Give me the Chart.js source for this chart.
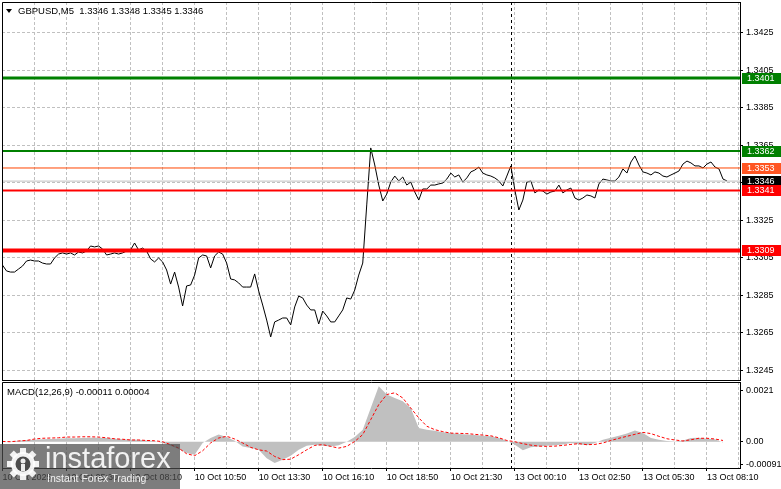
<!DOCTYPE html>
<html>
<head>
<meta charset="utf-8">
<script src="https://cdn.jsdelivr.net/npm/chart.js@4.4.1/dist/chart.umd.min.js"></script>
<style>
  html, body { margin: 0; padding: 0; background: #fff; }
  #wrap { position: relative; width: 781px; height: 489px; overflow: hidden; }
  canvas { position: absolute; left: 0; }
  #priceChart { top: 0; }
  #macdChart { top: 381px; }
</style>
</head>
<body>
<div id="wrap">
  <canvas id="priceChart" width="781" height="381"></canvas>
  <canvas id="macdChart" width="781" height="108"></canvas>
</div>
<script>
// GBPUSD M5, bar 0 = 10 Oct 02:50. closes read every 2 bars
const closeStep = 2;
const closes = [
  1.33012, 1.32981, 1.32975, 1.32975, 1.32991, 1.33007, 1.33034, 1.33039, 1.33034, 1.33034,
  1.33023, 1.33018, 1.33018, 1.33050, 1.33071, 1.33077, 1.33071, 1.33077, 1.33066, 1.33082,
  1.33077, 1.33087, 1.33114, 1.33109, 1.33114, 1.33098, 1.33066, 1.33071, 1.33077, 1.33071,
  1.33077, 1.33087, 1.33093, 1.33130, 1.33093, 1.33103, 1.33087, 1.33045, 1.33029, 1.33050,
  1.33029, 1.32986, 1.32911, 1.32975, 1.32895, 1.32794, 1.32901, 1.32906, 1.32959, 1.33050,
  1.33066, 1.33061, 1.32997, 1.33061, 1.33082, 1.33071, 1.33023, 1.32938, 1.32933, 1.32917,
  1.32895, 1.32895, 1.32895, 1.32965, 1.32874, 1.32799, 1.32719, 1.32629, 1.32709, 1.32719,
  1.32730, 1.32730, 1.32693, 1.32789, 1.32847, 1.32837, 1.32799, 1.32773, 1.32773, 1.32698,
  1.32767, 1.32741, 1.32709, 1.32709, 1.32741, 1.32773, 1.32837, 1.32831, 1.32879, 1.32959,
  1.33023, 1.33333, 1.33637, 1.33546,
  1.33439, 1.33354, 1.33391, 1.33455, 1.33487, 1.33461, 1.33482, 1.33439, 1.33455, 1.33402,
  1.33359, 1.33418, 1.33418, 1.33439, 1.33439, 1.33445, 1.33450, 1.33471, 1.33503, 1.33482,
  1.33493, 1.33455, 1.33477, 1.33509, 1.33519, 1.33535, 1.33503, 1.33493, 1.33487, 1.33477,
  1.33461, 1.33434, 1.33487, 1.33541, 1.33413, 1.33306, 1.33359, 1.33455, 1.33461, 1.33397,
  1.33413, 1.33407, 1.33391, 1.33402, 1.33407, 1.33439, 1.33397, 1.33413, 1.33423, 1.33370,
  1.33359, 1.33370, 1.33386, 1.33381, 1.33370, 1.33445, 1.33471, 1.33466, 1.33461, 1.33461,
  1.33482, 1.33525, 1.33503, 1.33562, 1.33594, 1.33546, 1.33509, 1.33503, 1.33493, 1.33509,
  1.33503, 1.33487, 1.33482, 1.33493, 1.33503, 1.33514, 1.33551, 1.33567, 1.33557, 1.33541,
  1.33541, 1.33530, 1.33551, 1.33562, 1.33535, 1.33525, 1.33471, 1.33461
];

// MACD(12,26,9), read every 4 bars
const macdStep = 4;
const macdHist = [
  0, 0.00001, 0.00004, 0.00007, 0.00008, 0.0001, 0.00011, 0.00012, 0.00014, 0.00014,
  0.00015, 0.00016, 0.00016, 0.00015, 0.00012, 0.0001, 0.00008, 0.00008, 0.00005, 0.00003,
  -0.00005, -0.00016, -0.0003, -0.00046, -0.00053, -0.00005, 0.00015, 0.00029, 0.00019, 0.00004,
  -0.00019, -0.00026, -0.00033, -0.00067, -0.00087, -0.00073, -0.00057, -0.00033, -0.00016, -0.00012,
  -0.00016, -0.00019, -0.00014, 0, 0.00019, 0.00049, 0.00137, 0.00226, 0.00192, 0.00178,
  0.00165, 0.00137, 0.00056, 0.00049, 0.00045, 0.00039, 0.00035, 0.00031, 0.00029, 0.00027,
  0.00024, 0.00022, 0.00015, 0.00004, -0.00012, -0.00035, -0.00023, -0.00019, -0.00016, -0.00014,
  -0.00011, -0.00005, -0.0001, -0.00014, -0.00005, 0.00008, 0.00016, 0.00024, 0.00033, 0.00046,
  0.00035, 0.00015, 0.00008, 0.00003, 0.00001, 0.00005, 0.00015, 0.00016, 0.00012, 0.0001,
  -0.00003
];
const macdSignal = [
  0.00001, 0, 0.00003, 0.00005, 0.00011, 0.00014, 0.00015, 0.00016, 0.00019, 0.00019,
  0.0002, 0.0002, 0.00019, 0.00016, 0.00012, 0.0001, 0.00007, 0.00007, 0.00005, 0.00004,
  0, -0.00012, -0.00026, -0.00049, -0.00057, -0.00037, -0.00005, 0.00015, 0.00022, 0.00011,
  -0.00005, -0.00023, -0.00033, -0.00038, -0.0006, -0.00073, -0.00071, -0.00053, -0.00033, -0.00015,
  -0.00012, -0.00019, -0.00026, -0.00019, 0.00001, 0.00029, 0.0009, 0.00151, 0.00192, 0.00199,
  0.00178, 0.00137, 0.00097, 0.00063, 0.00049, 0.00041, 0.00035, 0.00034, 0.00033, 0.0003,
  0.00027, 0.00024, 0.00016, 0.00005, 0, -0.00008, -0.00014, -0.00018, -0.00019, -0.00018,
  -0.00015, -0.00011, -0.00008, -0.00012, -0.00011, -0.00005, 0.00005, 0.00014, 0.00022, 0.0003,
  0.00038, 0.00033, 0.00022, 0.00012, 0.00007, 0.00003, 0.00008, 0.00014, 0.00014, 0.00011,
  0.00005
];

// axes
const priceTicks = [1.3245, 1.3265, 1.3285, 1.3305, 1.3325, 1.3345, 1.3365, 1.3385, 1.3405, 1.3425];
const macdTicks = [-0.00091, 0, 0.0021];
const macdTickText = ['-0.00091', '0.00', '0.0021'];
const labelBars = [0, 32, 64, 96, 128, 160, 192, 224, 256, 288, 320, 352];
const timeLabels = ['10 Oct 2025', '10 Oct 05:30', '10 Oct 08:10', '10 Oct 10:50', '10 Oct 13:30', '10 Oct 16:10',
  '10 Oct 18:50', '10 Oct 21:30', '13 Oct 00:10', '13 Oct 02:50', '13 Oct 05:30', '13 Oct 08:10'];
const gridBars = labelBars.flatMap(b => [b, b + 16]);
const sessionBreak = 254; // 13 Oct 00:00

// horizontal levels
const levels = [1.3401, 1.3362, 1.3353, 1.3346, 1.3341, 1.3309];
const levelColors = ['#008000', '#008000', '#ff4500', '#c0c0c0', '#ff0000', '#ff0000'];
const levelWidths = [3, 2, 1, 1, 2, 4];
const tagColors = ['#008000', '#008000', '#ff5522', '#000000', '#ff0000', '#ff0000'];

const xMin = -0.25, xMax = 368.5;
const FONT = "'Liberation Sans', Arial, sans-serif";
Chart.defaults.font.family = FONT;
Chart.defaults.font.size = 9;
Chart.defaults.color = '#000';

const GRID = '#c0c0c0';

// no extra room for half labels at the ends
const noPad = s => { s.paddingTop = 0; s.paddingBottom = 0; s.paddingLeft = 0; s.paddingRight = 0; };

// left + top edge of each pane
const frame = {
  id: 'frame',
  afterDraw(chart) {
    const { ctx, chartArea: a } = chart;
    ctx.save();
    ctx.strokeStyle = '#000';
    ctx.lineWidth = 1;
    ctx.beginPath();
    ctx.moveTo(a.left + 0.5, a.bottom);
    ctx.lineTo(a.left + 0.5, a.top + 0.5);
    ctx.lineTo(a.right, a.top + 0.5);
    ctx.stroke();
    ctx.restore();
  }
};

// period separator
const separator = {
  id: 'separator',
  beforeDatasetsDraw(chart) {
    const { ctx, chartArea: a, scales } = chart;
    const x = Math.round(scales.x.getPixelForValue(sessionBreak)) + 0.5;
    ctx.save();
    ctx.strokeStyle = '#000';
    ctx.lineWidth = 1;
    ctx.setLineDash([3, 3]);
    ctx.beginPath();
    ctx.moveTo(x, a.top);
    ctx.lineTo(x, a.bottom);
    ctx.stroke();
    ctx.restore();
  }
};

// price tags on the right + title
const tags = {
  id: 'tags',
  afterDraw(chart) {
    const { ctx, scales: { y } } = chart;
    const tx = y.left + 2;
    ctx.save();
    ctx.font = '9px ' + FONT;
    ctx.textBaseline = 'middle';
    levels.forEach((lv, k) => {
      const py = Math.round(y.getPixelForValue(lv));
      ctx.fillStyle = tagColors[k];
      ctx.fillRect(tx, py - 5, 781 - tx, 11);
      ctx.fillStyle = '#fff';
      ctx.fillText(lv.toFixed(4), tx + 5, py + 0.5);
    });

    ctx.fillStyle = '#000';
    ctx.beginPath();
    ctx.moveTo(6, 9);
    ctx.lineTo(12, 9);
    ctx.lineTo(9, 13);
    ctx.closePath();
    ctx.fill();
    ctx.font = '9.5px ' + FONT;
    ctx.fillText('GBPUSD,M5  1.3346 1.3348 1.3345 1.3346', 18, 11);
    ctx.restore();
  }
};

// MACD caption + watermark
const macdText = {
  id: 'macdText',
  afterDraw(chart) {
    const { ctx } = chart;
    ctx.save();
    ctx.fillStyle = '#000';
    ctx.font = '9.5px ' + FONT;
    ctx.textBaseline = 'middle';
    ctx.fillText('MACD(12,26,9) -0.00011 0.00004', 7, 11);

    // instaforex watermark
    ctx.fillStyle = 'rgba(75,75,75,0.72)';
    ctx.fillRect(0, 63, 180, 45);
    ctx.fillStyle = 'rgba(255,255,255,0.9)';
    const cx = 23, cy = 83;
    for (let t = 0; t < 8; t++) {
      ctx.save();
      ctx.translate(cx, cy);
      ctx.rotate(t * Math.PI / 4);
      ctx.fillRect(-3, -16, 6, 6);
      ctx.restore();
    }
    ctx.beginPath();
    ctx.arc(cx, cy, 12, 0, Math.PI * 2);
    ctx.fill();
    ctx.fillStyle = 'rgba(75,75,75,1)';
    ctx.beginPath();
    ctx.arc(cx, cy, 7.5, 0, Math.PI * 2);
    ctx.fill();
    ctx.fillStyle = 'rgba(255,255,255,0.9)';
    ctx.beginPath();
    ctx.arc(cx, cy - 3, 2.5, 0, Math.PI * 2);
    ctx.fill();
    ctx.fillRect(cx - 2, cy, 4, 7);
    ctx.textBaseline = 'alphabetic';
    ctx.font = '29px ' + FONT;
    ctx.fillText('instaforex', 45, 87);
    ctx.font = '10.5px ' + FONT;
    ctx.fillText('Instant Forex Trading', 47, 101);
    ctx.restore();
  }
};

new Chart(document.getElementById('priceChart'), {
  type: 'line',
  data: {
    datasets: [
      {
        data: closes.map((c, k) => ({ x: k * closeStep, y: c })),
        borderColor: '#000',
        borderWidth: 1,
        pointRadius: 0,
        order: 10
      },
      ...levels.map((lv, k) => ({
        data: [{ x: xMin, y: lv }, { x: xMax, y: lv }],
        borderColor: levelColors[k],
        borderWidth: levelWidths[k],
        pointRadius: 0,
        order: 1
      }))
    ]
  },
  options: {
    responsive: false,
    animation: false,
    layout: { padding: { top: 2, left: 2, right: 0, bottom: 1 }, autoPadding: false },
    plugins: { legend: { display: false }, tooltip: { enabled: false } },
    scales: {
      x: {
        type: 'linear', min: xMin, max: xMax,
        afterBuildTicks: s => { s.ticks = gridBars.map(v => ({ value: v })); },
        afterFit: s => { s.height = 0; noPad(s); },
        grid: { color: GRID, drawTicks: false },
        border: { color: '#000', dash: [3, 2] },
        ticks: { display: false }
      },
      y: {
        position: 'right',
        min: 1.323993, max: 1.344153,
        afterBuildTicks: s => { s.ticks = priceTicks.map(v => ({ value: v })); },
        afterFit: s => { s.width = 41; noPad(s); },
        grid: { color: GRID, tickColor: '#000', tickLength: 3, tickBorderDash: [] },
        border: { color: '#000', dash: [3, 2] },
        ticks: { padding: 3, color: '#000', autoSkip: false, callback: v => v.toFixed(4) }
      }
    }
  },
  plugins: [separator, frame, tags]
});

new Chart(document.getElementById('macdChart'), {
  type: 'line',
  data: {
    datasets: [
      {
        data: macdSignal.map((v, k) => ({ x: k * macdStep, y: v })),
        borderColor: '#ff0000',
        borderWidth: 1,
        borderDash: [3, 2],
        pointRadius: 0,
        order: 1
      },
      {
        data: macdHist.map((v, k) => ({ x: k * macdStep, y: v })),
        borderWidth: 0,
        borderColor: GRID,
        backgroundColor: GRID,
        fill: 'origin',
        pointRadius: 0,
        order: 5
      }
    ]
  },
  options: {
    responsive: false,
    animation: false,
    layout: { padding: { top: 1, left: 2, right: 0, bottom: 0 }, autoPadding: false },
    plugins: { legend: { display: false }, tooltip: { enabled: false } },
    scales: {
      x: {
        type: 'linear', min: xMin, max: xMax,
        afterBuildTicks: s => { s.ticks = gridBars.map(v => ({ value: v })); },
        afterFit: s => { s.height = 21; noPad(s); },
        grid: {
          color: GRID, tickLength: 3, tickBorderDash: [],
          tickColor: c => (c.tick && labelBars.includes(c.tick.value)) ? '#000' : 'rgba(0,0,0,0)'
        },
        border: { color: '#000', dash: [3, 2] },
        ticks: {
          autoSkip: false, maxRotation: 0, align: 'start', padding: 1, color: '#000',
          callback: v => { const k = labelBars.indexOf(v); return k < 0 ? '' : timeLabels[k]; }
        }
      },
      y: {
        position: 'right',
        min: -0.00107, max: 0.00243,
        afterBuildTicks: s => { s.ticks = macdTicks.map(v => ({ value: v })); },
        afterFit: s => { s.width = 41; noPad(s); },
        grid: { drawOnChartArea: false, tickColor: '#000', tickLength: 3 },
        border: { color: '#000' },
        ticks: { padding: 3, color: '#000', autoSkip: false, callback: (v, k) => macdTickText[k] }
      }
    }
  },
  plugins: [separator, frame, macdText]
});
</script>
</body>
</html>
